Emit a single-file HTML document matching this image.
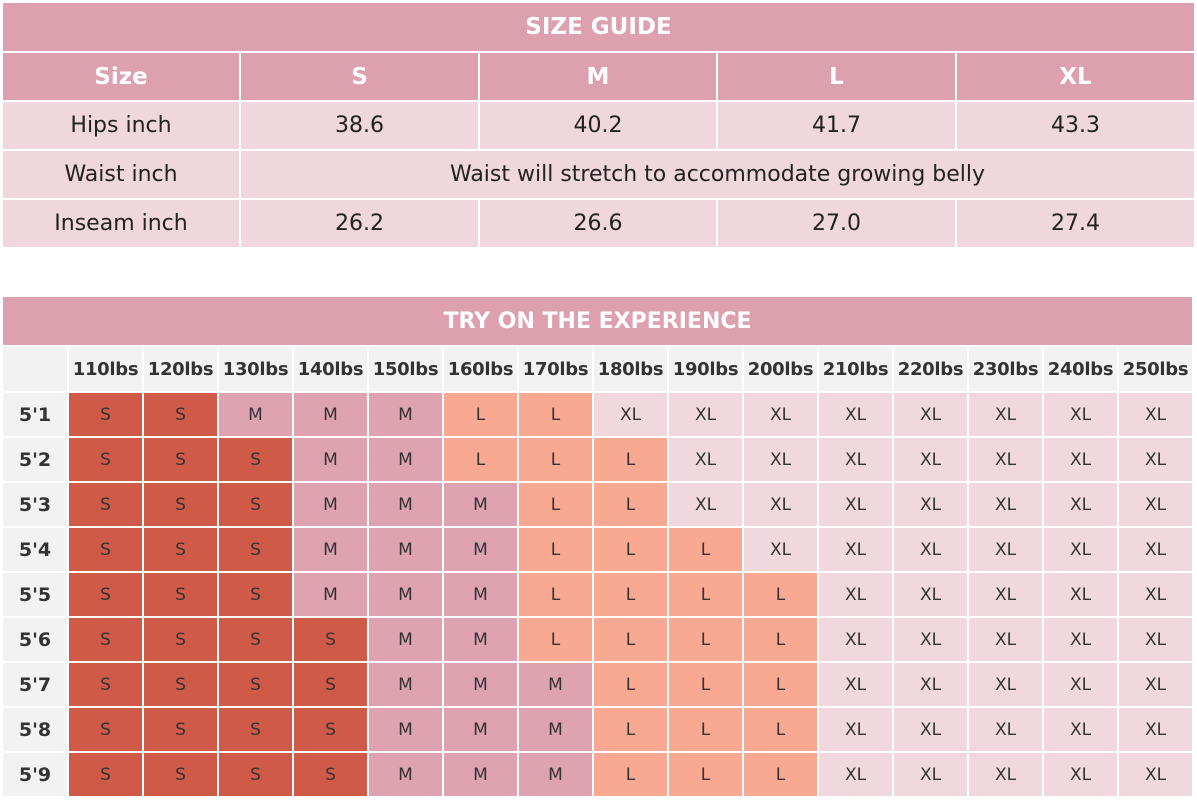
<!DOCTYPE html>
<html><head><meta charset="utf-8"><style>
body{margin:0;width:1197px;height:800px;background:#fff;font-family:"DejaVu Sans","Liberation Sans",sans-serif;position:relative;overflow:hidden}
.t1{position:absolute;left:3px;top:3px;width:1191px;display:grid;grid-template-columns:236px 237px 236px 237px 237px;grid-template-rows:48px 47px 47px 47px 47px;gap:2px;background:#fff}
.t1 div{display:flex;align-items:center;justify-content:center;font-size:22px;color:#222;background:#f0d6dd}
.t1 .h{background:#dca0ae;color:#fff;font-weight:bold;font-size:23px}
.t2{position:absolute;left:3px;top:297px;width:1191px;display:grid;grid-template-columns:64px repeat(15,73px);grid-template-rows:48px 44px repeat(9,43px);gap:2px;background:#fff}
.t2 div{display:flex;align-items:center;justify-content:center;font-size:17px;color:#333}
.t2 .h{grid-column:1/17;background:#dca0ae;color:#fff;font-weight:bold;font-size:22px}
.t2 .w,.t2 .r{background:#f2f2f2;font-weight:bold;font-size:19px;color:#333}
.t2 .w{font-size:18px;letter-spacing:-0.3px}
.S{background:#d05a48}.M{background:#dea2b1}.L{background:#f9a891}.X{background:#f1d8de}
</style></head><body>
<div class="t1">
<div class="h" style="grid-column:1/6">SIZE GUIDE</div>
<div class="h">Size</div><div class="h">S</div><div class="h">M</div><div class="h">L</div><div class="h">XL</div>
<div>Hips inch</div><div>38.6</div><div>40.2</div><div>41.7</div><div>43.3</div>
<div>Waist inch</div><div style="grid-column:2/6">Waist will stretch to accommodate growing belly</div>
<div>Inseam inch</div><div>26.2</div><div>26.6</div><div>27.0</div><div>27.4</div>
</div>
<div class="t2">
<div class="h">TRY ON THE EXPERIENCE</div>
<div class="w"></div><div class="w">110lbs</div><div class="w">120lbs</div><div class="w">130lbs</div><div class="w">140lbs</div><div class="w">150lbs</div><div class="w">160lbs</div><div class="w">170lbs</div><div class="w">180lbs</div><div class="w">190lbs</div><div class="w">200lbs</div><div class="w">210lbs</div><div class="w">220lbs</div><div class="w">230lbs</div><div class="w">240lbs</div><div class="w">250lbs</div>
<div class="r">5'1</div><div class="S">S</div><div class="S">S</div><div class="M">M</div><div class="M">M</div><div class="M">M</div><div class="L">L</div><div class="L">L</div><div class="X">XL</div><div class="X">XL</div><div class="X">XL</div><div class="X">XL</div><div class="X">XL</div><div class="X">XL</div><div class="X">XL</div><div class="X">XL</div>
<div class="r">5'2</div><div class="S">S</div><div class="S">S</div><div class="S">S</div><div class="M">M</div><div class="M">M</div><div class="L">L</div><div class="L">L</div><div class="L">L</div><div class="X">XL</div><div class="X">XL</div><div class="X">XL</div><div class="X">XL</div><div class="X">XL</div><div class="X">XL</div><div class="X">XL</div>
<div class="r">5'3</div><div class="S">S</div><div class="S">S</div><div class="S">S</div><div class="M">M</div><div class="M">M</div><div class="M">M</div><div class="L">L</div><div class="L">L</div><div class="X">XL</div><div class="X">XL</div><div class="X">XL</div><div class="X">XL</div><div class="X">XL</div><div class="X">XL</div><div class="X">XL</div>
<div class="r">5'4</div><div class="S">S</div><div class="S">S</div><div class="S">S</div><div class="M">M</div><div class="M">M</div><div class="M">M</div><div class="L">L</div><div class="L">L</div><div class="L">L</div><div class="X">XL</div><div class="X">XL</div><div class="X">XL</div><div class="X">XL</div><div class="X">XL</div><div class="X">XL</div>
<div class="r">5'5</div><div class="S">S</div><div class="S">S</div><div class="S">S</div><div class="M">M</div><div class="M">M</div><div class="M">M</div><div class="L">L</div><div class="L">L</div><div class="L">L</div><div class="L">L</div><div class="X">XL</div><div class="X">XL</div><div class="X">XL</div><div class="X">XL</div><div class="X">XL</div>
<div class="r">5'6</div><div class="S">S</div><div class="S">S</div><div class="S">S</div><div class="S">S</div><div class="M">M</div><div class="M">M</div><div class="L">L</div><div class="L">L</div><div class="L">L</div><div class="L">L</div><div class="X">XL</div><div class="X">XL</div><div class="X">XL</div><div class="X">XL</div><div class="X">XL</div>
<div class="r">5'7</div><div class="S">S</div><div class="S">S</div><div class="S">S</div><div class="S">S</div><div class="M">M</div><div class="M">M</div><div class="M">M</div><div class="L">L</div><div class="L">L</div><div class="L">L</div><div class="X">XL</div><div class="X">XL</div><div class="X">XL</div><div class="X">XL</div><div class="X">XL</div>
<div class="r">5'8</div><div class="S">S</div><div class="S">S</div><div class="S">S</div><div class="S">S</div><div class="M">M</div><div class="M">M</div><div class="M">M</div><div class="L">L</div><div class="L">L</div><div class="L">L</div><div class="X">XL</div><div class="X">XL</div><div class="X">XL</div><div class="X">XL</div><div class="X">XL</div>
<div class="r">5'9</div><div class="S">S</div><div class="S">S</div><div class="S">S</div><div class="S">S</div><div class="M">M</div><div class="M">M</div><div class="M">M</div><div class="L">L</div><div class="L">L</div><div class="L">L</div><div class="X">XL</div><div class="X">XL</div><div class="X">XL</div><div class="X">XL</div><div class="X">XL</div>
</div>
</body></html>
